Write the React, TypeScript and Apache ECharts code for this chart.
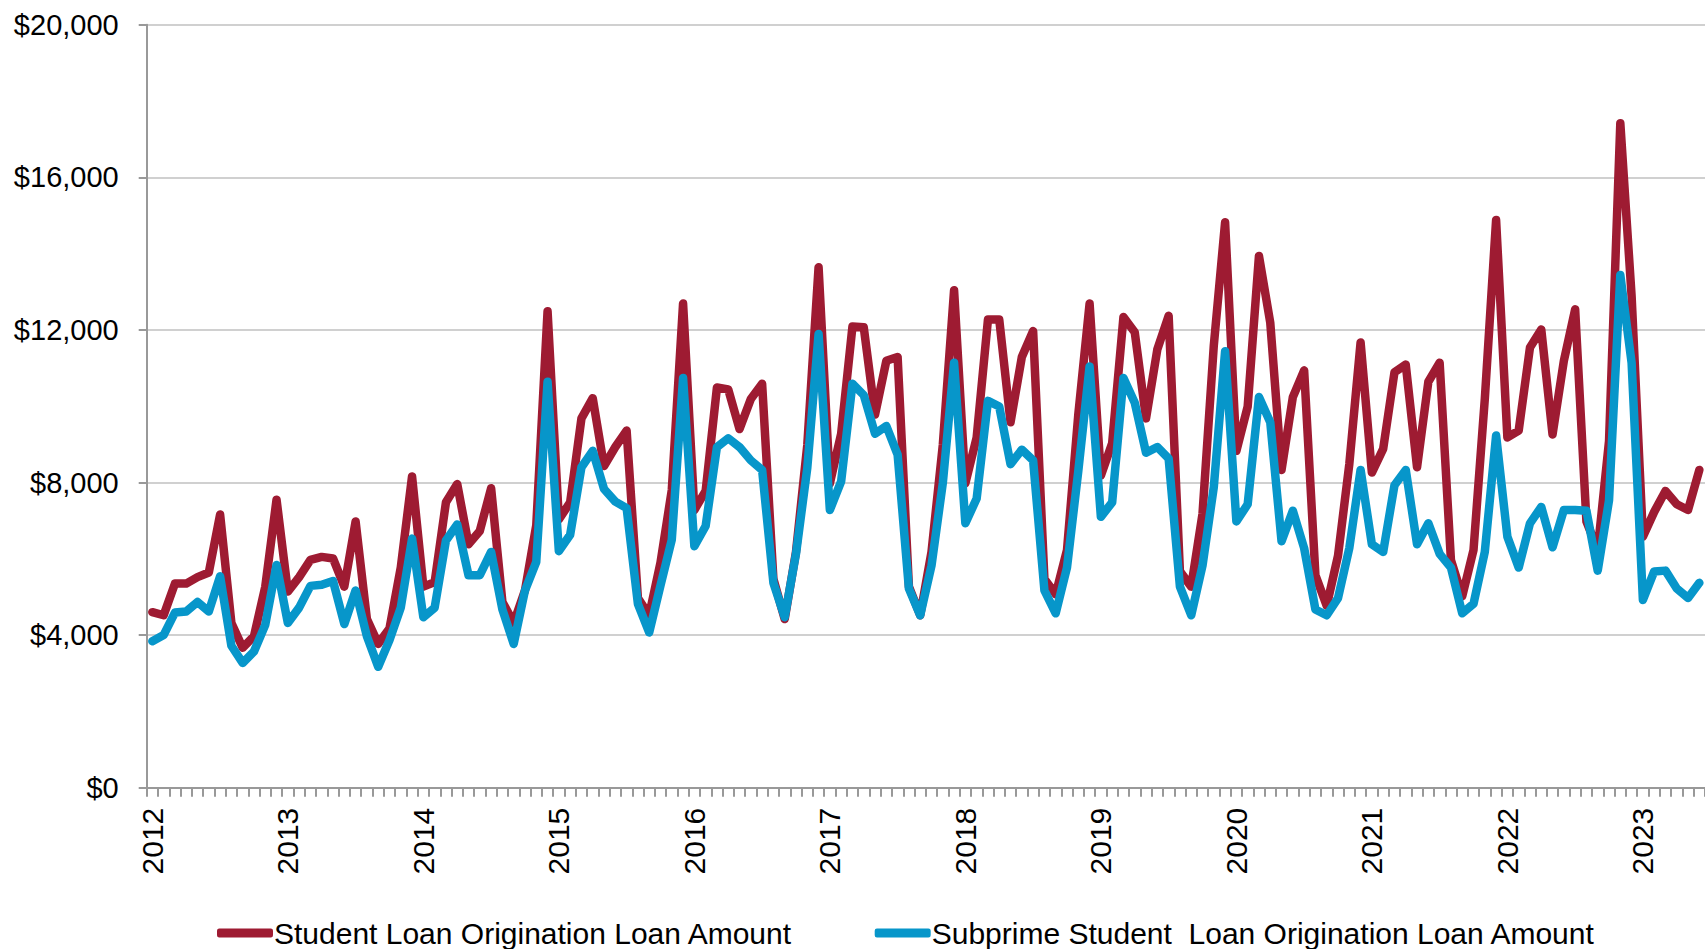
import React, { useEffect, useRef } from "react";
import * as echarts from "echarts";

const years = ["2012", "2013", "2014", "2015", "2016", "2017", "2018", "2019", "2020", "2021", "2022", "2023"];
const monthsInLastYear = 6;

// values in $ thousands, monthly Jan 2012 – Jun 2023
const studentLoan = [
  4.60, 4.52, 5.35, 5.35, 5.52, 5.64, 7.16, 4.32, 3.67, 3.97, 5.27, 7.55,
  5.14, 5.52, 5.97, 6.05, 6.01, 5.27, 6.98, 4.42, 3.77, 4.17, 5.77, 8.16,
  5.27, 5.39, 7.48, 7.96, 6.38, 6.73, 7.85, 4.87, 4.32, 5.17, 6.88, 12.49,
  7.03, 7.48, 9.68, 10.21, 8.43, 8.93, 9.36, 4.97, 4.52, 5.90, 7.80, 12.69,
  7.28, 7.78, 10.49, 10.44, 9.40, 10.19, 10.59, 5.47, 4.42, 6.18, 8.98, 13.64,
  7.98, 9.28, 12.09, 12.07, 9.78, 11.19, 11.29, 5.27, 4.52, 6.18, 8.98, 13.04,
  7.98, 9.18, 12.27, 12.27, 9.58, 11.29, 11.97, 5.47, 5.07, 6.23, 9.78, 12.69,
  8.18, 9.03, 12.34, 11.94, 9.68, 11.49, 12.37, 5.67, 5.27, 7.18, 11.59, 14.82,
  8.83, 9.99, 13.94, 12.19, 8.33, 10.24, 10.94, 5.57, 4.77, 6.08, 8.48, 11.67,
  8.26, 8.88, 10.89, 11.09, 8.40, 10.64, 11.14, 5.97, 5.02, 6.23, 10.19, 14.88,
  9.18, 9.36, 11.54, 12.01, 9.26, 11.19, 12.54, 6.98, 6.23, 9.08, 17.42, 12.89,
  6.58, 7.23, 7.78, 7.43, 7.28, 8.33,
];

const subprimeLoan = [
  3.84, 4.00, 4.59, 4.62, 4.87, 4.62, 5.54, 3.72, 3.27, 3.57, 4.27, 5.84,
  4.32, 4.72, 5.29, 5.32, 5.42, 4.29, 5.17, 3.97, 3.17, 3.87, 4.72, 6.53,
  4.47, 4.72, 6.48, 6.90, 5.57, 5.57, 6.18, 4.67, 3.77, 5.17, 5.92, 10.64,
  6.20, 6.63, 8.40, 8.83, 7.83, 7.50, 7.33, 4.82, 4.07, 5.30, 6.50, 10.74,
  6.33, 6.86, 8.93, 9.16, 8.93, 8.58, 8.33, 5.37, 4.47, 6.13, 8.38, 11.89,
  7.28, 8.03, 10.59, 10.29, 9.28, 9.48, 8.73, 5.22, 4.52, 5.82, 7.98, 11.14,
  6.93, 7.58, 10.14, 9.99, 8.48, 8.86, 8.58, 5.17, 4.57, 5.77, 8.30, 11.04,
  7.10, 7.48, 10.74, 10.09, 8.78, 8.93, 8.63, 5.27, 4.52, 5.82, 7.88, 11.44,
  6.98, 7.43, 10.24, 9.58, 6.46, 7.26, 6.28, 4.67, 4.52, 4.97, 6.28, 8.33,
  6.38, 6.18, 7.93, 8.33, 6.38, 6.93, 6.13, 5.77, 4.57, 4.82, 6.18, 9.23,
  6.58, 5.77, 6.93, 7.36, 6.30, 7.28, 7.28, 7.26, 5.69, 7.53, 13.44, 11.14,
  4.92, 5.67, 5.69, 5.22, 4.97, 5.37,
];

const seriesNames = [
  "Student Loan Origination Loan Amount",
  "Subprime Student  Loan Origination Loan Amount",
];
const yMin = 0;
const yMax = 20000;
const yInterval = 4000;

const categories: string[] = [];
years.forEach((y, yi) => {
  const n = yi === years.length - 1 ? monthsInLastYear : 12;
  for (let m = 1; m <= n; m++) categories.push(`${y}-${String(m).padStart(2, "0")}`);
});

const FONT = "'Liberation Sans', Arial, sans-serif";

export default function App() {
  const ref = useRef<HTMLDivElement>(null);
  useEffect(() => {
    if (!ref.current) return;
    const chart = echarts.init(ref.current, null, { renderer: "svg" });
    chart.setOption({
      animation: false,
      backgroundColor: "#ffffff",
      textStyle: { fontFamily: FONT },
      grid: { left: 146.7, top: 24.7, bottom: 161.3, right: -4, containLabel: false },
      legend: {
        left: 212,
        top: 913,
        itemWidth: 56,
        itemHeight: 9,
        itemGap: 82,
        icon: "roundRect",
        textStyle: { fontSize: 30, color: "#000", fontFamily: FONT, padding: [0, 0, 0, -4] },
        data: seriesNames,
      },
      xAxis: {
        type: "category",
        data: categories,
        boundaryGap: true,
        axisLine: { lineStyle: { color: "#999999", width: 2 } },
        axisTick: { show: true, interval: 0, length: 9, lineStyle: { color: "#999999", width: 2 } },
        axisLabel: {
          interval: 11,
          rotate: 90,
          margin: 20,
          fontSize: 30,
          color: "#000",
          fontFamily: FONT,
          formatter: (v: string) => v.slice(0, 4),
        },
        splitLine: { show: false },
      },
      yAxis: {
        type: "value",
        min: yMin,
        max: yMax,
        interval: yInterval,
        axisLine: { show: true, lineStyle: { color: "#999999", width: 2 } },
        axisTick: { show: true, length: 8, lineStyle: { color: "#999999", width: 2 } },
        axisLabel: {
          margin: 28,
          fontSize: 29,
          color: "#000",
          fontFamily: FONT,
          formatter: (v: number) => "$" + v.toLocaleString("en-US"),
        },
        splitLine: { show: true, lineStyle: { color: "#C0C0C0", width: 1.5 } },
      },
      series: [
        {
          name: seriesNames[0],
          type: "line",
          data: studentLoan.map((v) => Math.round(v * 1000)),
          showSymbol: false,
          symbol: "none",
          color: "#9E1B32",
          lineStyle: { color: "#9E1B32", width: 8.5, cap: "round", join: "round" },
          z: 2,
        },
        {
          name: seriesNames[1],
          type: "line",
          data: subprimeLoan.map((v) => Math.round(v * 1000)),
          showSymbol: false,
          symbol: "none",
          color: "#0796CA",
          lineStyle: { color: "#0796CA", width: 8.5, cap: "round", join: "round" },
          z: 3,
        },
      ],
    });
    return () => chart.dispose();
  }, []);
  return (
    <div
      ref={ref}
      style={{ position: "absolute", left: 0, top: 0, width: 1705, height: 949, background: "#fff" }}
    />
  );
}
